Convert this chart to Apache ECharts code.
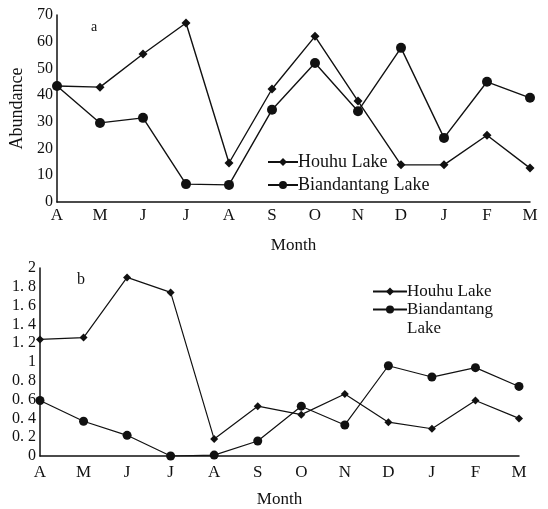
<!DOCTYPE html>
<html>
<head>
<meta charset="utf-8">
<script src="https://cdn.jsdelivr.net/npm/echarts@6/dist/echarts.min.js"></script>
<style>
html,body{margin:0;padding:0;background:#fff;}
#chart{width:548px;height:509px;}
</style>
</head>
<body>
<div id="chart"></div>
<script>
var months = ['A','M','J','J','A','S','O','N','D','J','F','M'];
var houhuA = [43.4, 43, 55.4, 67, 14.6, 42.3, 62, 37.8, 13.9, 13.9, 25, 12.7];
var biandA = [43.4, 29.6, 31.5, 6.7, 6.4, 34.5, 52, 34, 57.7, 24, 45, 39];
var houhuB = [1.24, 1.26, 1.9, 1.74, 0.18, 0.53, 0.44, 0.66, 0.36, 0.29, 0.59, 0.4];
var biandB = [0.59, 0.37, 0.22, 0, 0.01, 0.16, 0.53, 0.33, 0.96, 0.84, 0.94, 0.74];
var nameH = 'Houhu Lake';
var nameB = 'Biandantang Lake';

var FONT = 'Liberation Serif';
var black = '#111';

function xAxisCfg(gi){
  return {
    type:'category', gridIndex:gi, data:months, boundaryGap:false,
    name:'Month', nameLocation:'middle', nameGap:35,
    nameTextStyle:{fontFamily:FONT,fontSize:17,color:black},
    axisLine:{lineStyle:{color:black,width:1.5}},
    axisTick:{show:false},
    axisLabel:{fontFamily:FONT,fontSize:17,color:black,margin:gi===0 ? 5 : 8,interval:0},
    splitLine:{show:false}
  };
}

var chart = echarts.init(document.getElementById('chart'));
chart.setOption({
  backgroundColor:'#fff',
  animation:false,
  title:[
    {text:'a', left:86, top:15, textStyle:{fontFamily:FONT,fontSize:14,fontWeight:'normal',color:black}},
    {text:'b', left:72, top:267, textStyle:{fontFamily:FONT,fontSize:16,fontWeight:'normal',color:black}}
  ],
  legend:[
    {data:[nameH,nameB], orient:'vertical', left:262, top:148, itemWidth:30, itemHeight:10, itemGap:5, selectedMode:false,
     textStyle:{fontFamily:FONT,fontSize:18,color:black,padding:[0,0,0,-5]}},
    {data:[nameH], orient:'vertical', left:367, top:277, itemWidth:34, itemHeight:10, selectedMode:false,
     textStyle:{fontFamily:FONT,fontSize:17,color:black,lineHeight:19,padding:[0,0,0,-5]}},
    {data:[nameB], orient:'vertical', left:367, top:276, itemWidth:34, itemHeight:10, selectedMode:false,
     formatter:function(n){return ' \nBiandantang\nLake';},
     textStyle:{fontFamily:FONT,fontSize:17,color:black,lineHeight:19,padding:[0,0,0,-5]}}
  ],
  grid:[
    {left:57, right:18, top:15, height:187},
    {left:40, right:29, top:268, height:193}
  ],
  xAxis:[xAxisCfg(0), xAxisCfg(1)],
  yAxis:[
    {type:'value', gridIndex:0, min:0, max:70, interval:10,
     name:'Abundance', nameLocation:'middle', nameGap:29,
     nameTextStyle:{fontFamily:FONT,fontSize:18,color:black},
     axisLine:{show:true,lineStyle:{color:black,width:1.5}}, axisTick:{show:false},
     axisLabel:{fontFamily:FONT,fontSize:16,color:black,margin:4},
     splitLine:{show:false}},
    {type:'value', gridIndex:1, min:0, max:2, interval:0.2,
     axisLine:{show:true,lineStyle:{color:black,width:1.5}}, axisTick:{show:false},
     axisLabel:{fontFamily:FONT,fontSize:16,color:black,margin:4,
       formatter:function(v){return String(+v.toFixed(1)).replace('.', '. ');}},
     splitLine:{show:false}}
  ],
  series:[
    {name:nameH, type:'line', xAxisIndex:0, yAxisIndex:0, data:houhuA, symbol:'diamond', symbolSize:9,
     lineStyle:{color:black,width:1.4}, itemStyle:{color:black}},
    {name:nameB, type:'line', xAxisIndex:0, yAxisIndex:0, data:biandA, symbol:'circle', symbolSize:10,
     lineStyle:{color:black,width:1.4}, itemStyle:{color:black}},
    {name:nameH, type:'line', xAxisIndex:1, yAxisIndex:1, data:houhuB, symbol:'diamond', symbolSize:8,
     lineStyle:{color:black,width:1.2}, itemStyle:{color:black}},
    {name:nameB, type:'line', xAxisIndex:1, yAxisIndex:1, data:biandB, symbol:'circle', symbolSize:9,
     lineStyle:{color:black,width:1.2}, itemStyle:{color:black}}
  ]
});
</script>
</body>
</html>
